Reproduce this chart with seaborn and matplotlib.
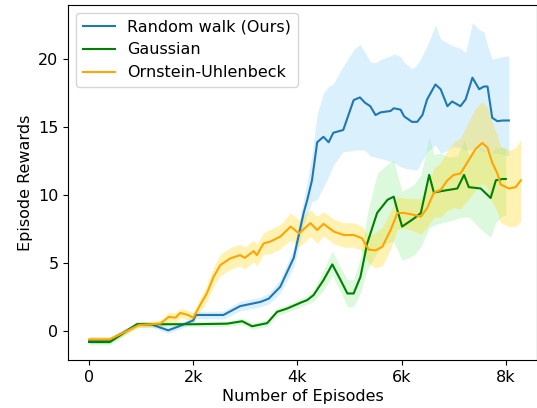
import pandas as pd
import seaborn as sns
import matplotlib
matplotlib.use("Agg")
import matplotlib.pyplot as plt

# Random walk (Ours): mean and shaded band
x_rw = [0, 400, 920, 1200, 1520, 1750, 2000, 2050, 2580, 2900, 3290, 3450, 3670, 3930, 4120,
        4190, 4280, 4380, 4500, 4600, 4690, 4880, 5080, 5200, 5300, 5400, 5500, 5600, 5790, 5850,
        5980, 6050, 6200, 6300, 6400, 6490, 6650, 6750, 6880, 6970, 7130, 7230, 7360, 7490, 7580,
        7650, 7740, 7840, 7940, 8060]
y_rw = [-0.66, -0.66, 0.49, 0.5, 0.07, 0.4, 0.8, 1.2, 1.2, 1.85, 2.16, 2.4, 3.27, 5.4, 8.7,
        9.67, 11.1, 13.9, 14.3, 13.9, 14.6, 14.8, 17.0, 17.2, 16.8, 16.55, 15.9, 16.1, 16.2, 16.4,
        16.3, 15.8, 15.4, 15.4, 15.9, 17.05, 18.15, 17.8, 16.55, 16.9, 16.55, 17.05, 18.65, 17.8, 18.0,
        18.0, 15.7, 15.45, 15.5, 15.5]
lo_rw = [-0.9, -0.9, 0.3, 0.3, -0.15, 0.2, 0.55, 0.95, 0.9, 1.5, 1.8, 2.0, 2.8, 4.7, 7.8,
         8.6, 9.5, 9.7, 10.6, 11.4, 12.2, 13.2, 13.3, 13.35, 13.3, 12.9, 12.8, 12.7, 12.5, 12.4,
         12.1, 12.0, 11.9, 11.85, 12.6, 13.2, 13.7, 13.1, 13.3, 13.6, 13.5, 13.3, 13.4, 13.4, 13.2,
         13.2, 13.1, 13.1, 13.0, 12.9]
hi_rw = [-0.4, -0.4, 0.7, 0.7, 0.3, 0.6, 1.05, 1.45, 1.5, 2.2, 2.5, 2.8, 3.8, 6.1, 9.7,
         11.0, 13.0, 16.0, 17.5, 18.0, 18.2, 19.5, 20.7, 21.1, 20.5, 19.8, 19.75, 20.0, 20.25, 20.4,
         20.2, 19.8, 19.3, 19.6, 20.3, 21.0, 22.5, 21.5, 21.2, 21.0, 20.8, 20.5, 22.7, 22.2, 22.0,
         21.0, 20.0, 20.1, 20.2, 20.25]

# Gaussian
x_g = [0, 400, 920, 1500, 2000, 2650, 2940, 3130, 3420, 3610, 3800, 4060, 4190, 4310, 4500,
       4670, 4830, 4960, 5080, 5210, 5340, 5530, 5730, 5850, 5920, 6010, 6240, 6370, 6530, 6620,
       6750, 6910, 7070, 7200, 7290, 7520, 7710, 7810, 7940, 8000]
y_g = [-0.79, -0.79, 0.52, 0.52, 0.52, 0.56, 0.74, 0.37, 0.6, 1.43, 1.67, 2.1, 2.3, 2.66, 3.76,
       4.92, 3.76, 2.78, 2.78, 4.0, 6.46, 8.7, 9.67, 9.9, 8.9, 7.7, 8.3, 8.7, 11.5, 10.2,
       10.3, 10.4, 10.5, 11.5, 10.6, 10.5, 9.8, 11.1, 11.2, 11.2]
lo_g = [-1.0, -1.0, 0.3, 0.35, 0.35, 0.35, 0.5, 0.15, 0.35, 1.15, 1.4, 1.8, 2.0, 2.2, 3.0,
        4.1, 2.9, 1.8, 1.8, 2.8, 4.5, 5.8, 6.5, 6.6, 6.0, 5.2, 5.6, 6.2, 7.6, 7.8,
        7.95, 8.1, 8.3, 8.4, 8.4, 7.5, 6.9, 8.0, 8.5, 8.5]
hi_g = [-0.6, -0.6, 0.7, 0.7, 0.7, 0.75, 1.0, 0.6, 0.85, 1.7, 1.95, 2.4, 2.6, 3.1, 4.5,
        5.9, 4.7, 3.8, 3.8, 5.4, 8.6, 11.6, 12.3, 12.6, 11.5, 10.3, 10.8, 11.5, 14.3, 13.0,
        13.1, 12.8, 12.9, 14.0, 13.0, 13.5, 13.0, 13.5, 13.5, 13.5]

# Ornstein-Uhlenbeck
x_ou = [0, 400, 950, 1370, 1530, 1660, 1750, 1900, 2000, 2130, 2260, 2390, 2520, 2710, 2900,
        2990, 3160, 3220, 3350, 3480, 3670, 3870, 4030, 4250, 4380, 4500, 4700, 4890, 5080, 5240,
        5370, 5500, 5630, 5790, 5920, 6050, 6240, 6370, 6490, 6620, 6750, 6880, 7000, 7130, 7260,
        7420, 7550, 7650, 7740, 7840, 7900, 8060, 8190, 8290]
y_ou = [-0.6, -0.6, 0.45, 0.57, 1.06, 1.0, 1.35, 1.2, 1.0, 1.92, 2.78, 4.0, 4.87, 5.36, 5.6,
        5.4, 5.9, 5.6, 6.46, 6.6, 6.96, 7.7, 7.2, 7.95, 7.45, 7.9, 7.33, 7.08, 7.08, 6.84,
        6.0, 5.95, 6.22, 7.45, 8.7, 8.7, 8.56, 8.43, 9.05, 10.2, 10.4, 11.1, 11.5, 11.6, 12.4,
        13.4, 13.85, 13.5, 12.4, 11.6, 10.8, 10.5, 10.6, 11.1]
lo_ou = [-0.8, -0.8, 0.25, 0.32, 0.71, 0.65, 1.0, 0.85, 0.65, 1.42, 2.18, 3.3, 4.07, 4.56, 4.8,
         4.6, 5.1, 4.8, 5.66, 5.7, 6.06, 6.7, 6.2, 6.95, 6.45, 7.0, 6.43, 6.18, 6.18, 5.94,
         5.0, 4.65, 4.82, 6.05, 7.5, 7.6, 7.36, 7.13, 7.65, 8.4, 8.4, 8.9, 9.1, 9.0, 9.6,
         10.4, 10.85, 10.5, 9.5, 8.8, 8.0, 7.7, 7.7, 8.1]
hi_ou = [-0.4, -0.4, 0.65, 0.82, 1.41, 1.35, 1.7, 1.55, 1.35, 2.42, 3.38, 4.7, 5.67, 6.16, 6.4,
         6.2, 6.7, 6.4, 7.26, 7.5, 7.86, 8.7, 8.2, 8.95, 8.45, 8.8, 8.23, 7.98, 7.98, 7.74,
         7.0, 7.25, 7.62, 8.85, 9.9, 9.8, 9.76, 9.73, 10.45, 12.0, 12.4, 13.3, 13.9, 14.2, 15.2,
         16.4, 16.85, 16.5, 15.3, 14.4, 13.6, 13.3, 13.5, 14.1]

x_ticks = [0, 2000, 4000, 6000, 8000]
x_tick_labels = ["0", "2k", "4k", "6k", "8k"]

series = [
    ("Random walk (Ours)", x_rw, y_rw, lo_rw, hi_rw, "#1f77b4", "lightskyblue"),
    ("Gaussian", x_g, y_g, lo_g, hi_g, "green", "lightgreen"),
    ("Ornstein-Uhlenbeck", x_ou, y_ou, lo_ou, hi_ou, "orange", "gold"),
]

plt.rcParams["font.size"] = 11.5
fig, ax = plt.subplots(figsize=(5.37, 4.08), dpi=100)
fig.subplots_adjust(left=0.127, right=1.0, bottom=0.118, top=0.988)

for name, xs, ys, lo, hi, col, band in series:
    df = pd.DataFrame({"Episodes": xs, "Reward": ys})
    ax.fill_between(xs, lo, hi, color=band, alpha=0.3, linewidth=0)
    sns.lineplot(data=df, x="Episodes", y="Reward", color=col, linewidth=1.5,
                 label=name, ax=ax)

ax.set_xticks(x_ticks)
ax.set_xticklabels(x_tick_labels)
ax.set_yticks([0, 5, 10, 15, 20])
ax.set_xlim(-400, 8600)
ax.set_ylim(-2.1, 24.0)
ax.set_xlabel("Number of Episodes", labelpad=3)
ax.set_ylabel("Episode Rewards")
ax.legend(loc="upper left", fontsize=11.5)

fig.savefig("out.png", dpi=100)
